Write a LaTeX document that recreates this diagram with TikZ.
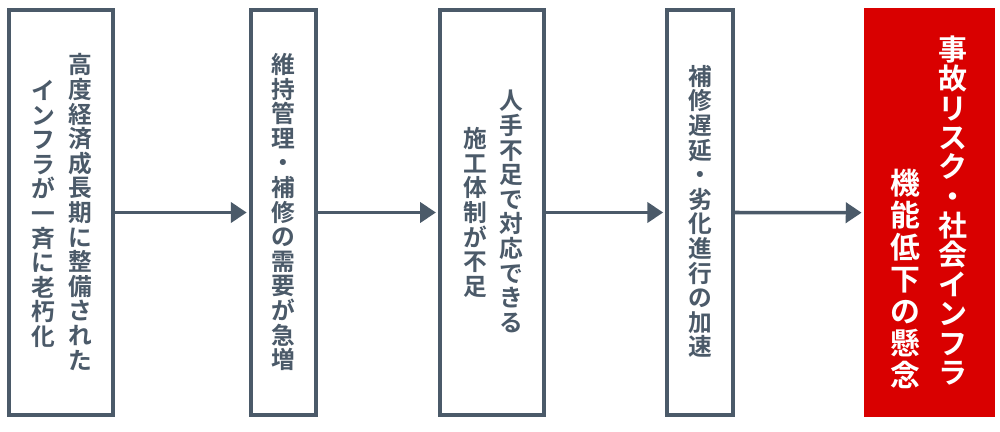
\documentclass[tikz,border=0pt]{standalone}
\usepackage{fontspec}
\newfontfamily\jpfont{Noto Sans CJK JP}[BoldFont={Noto Sans CJK JP Bold}]
\usetikzlibrary{arrows.meta}

\definecolor{slate}{HTML}{4B5A69}
\definecolor{alertred}{HTML}{D90000}

% stack the characters of a phrase one under another (vertical writing)
\ExplSyntaxOn
\NewDocumentCommand \tate { m }
  {
    \seq_clear:N \l_tmpa_seq
    \tl_map_inline:nn {#1} { \seq_put_right:Nn \l_tmpa_seq {##1} }
    \seq_use:Nn \l_tmpa_seq { \\ }
  }
\ExplSyntaxOff

\begin{document}
\begin{tikzpicture}[
        x=0.02cm, y=-0.02cm,
        stage box/.style={draw=slate, line width=2.3pt, fill=white, minimum height=8.1cm, inner sep=0pt},
        wide box/.style={stage box, minimum width=2.08cm},
        narrow box/.style={stage box, minimum width=1.31cm},
        alert box/.style={fill=alertred, minimum width=2.62cm, minimum height=8.19cm, inner sep=0pt},
        column/.style={font=\jpfont\bfseries\fontsize{13.5}{14}\selectfont, text=slate, align=center, inner sep=0pt},
        alert column/.style={column, text=white},
        flow/.style={draw=slate, line width=2pt, -{Triangle[length=9pt, width=11.5pt]}, shorten >=1.2pt},
    ]

    \useasboundingbox (0,0) rectangle (1000,432);

    % Stages
    \node[wide box] (infra) at (61,212.5) {};
    \node[narrow box] (demand) at (283.5,212.5) {};
    \node[wide box] (labor) at (492,212.5) {};
    \node[narrow box] (delay) at (700,212.5) {};
    \node[alert box] (risk) at (929.5,212.7) {};

    % Vertical texts
    \node[column] (infra r) at (80,212) {\tate{高度経済成長期に整備された}};
    \node[column] (infra l) at (43.5,214) {\tate{インフラが一斉に老朽化}};
    \node[column] (demand t) at (283.5,212) {\tate{維持管理・補修の需要が急増}};
    \node[column] (labor r) at (511,211.5) {\tate{人手不足で対応できる}};
    \node[column] (labor l) at (475,212.5) {\tate{施工体制が不足}};
    \node[column] (delay t) at (700,211.5) {\tate{補修遅延・劣化進行の加速}};
    \node[alert column, font=\jpfont\bfseries\fontsize{16.5}{16.7}\selectfont] (risk r) at (953,210.5) {\tate{事故リスク・社会インフラ}};
    \node[alert column, font=\jpfont\bfseries\fontsize{17}{18.2}\selectfont] (risk l) at (905,278.5) {\tate{機能低下の懸念}};

    % Arrows between stages
    \draw[flow] (infra.east) -- (demand.west);
    \draw[flow] (demand.east) -- (labor.west);
    \draw[flow] (labor.east) -- (delay.west);
    \draw[flow] (delay.east) -- (risk.west);

\end{tikzpicture}
\end{document}
